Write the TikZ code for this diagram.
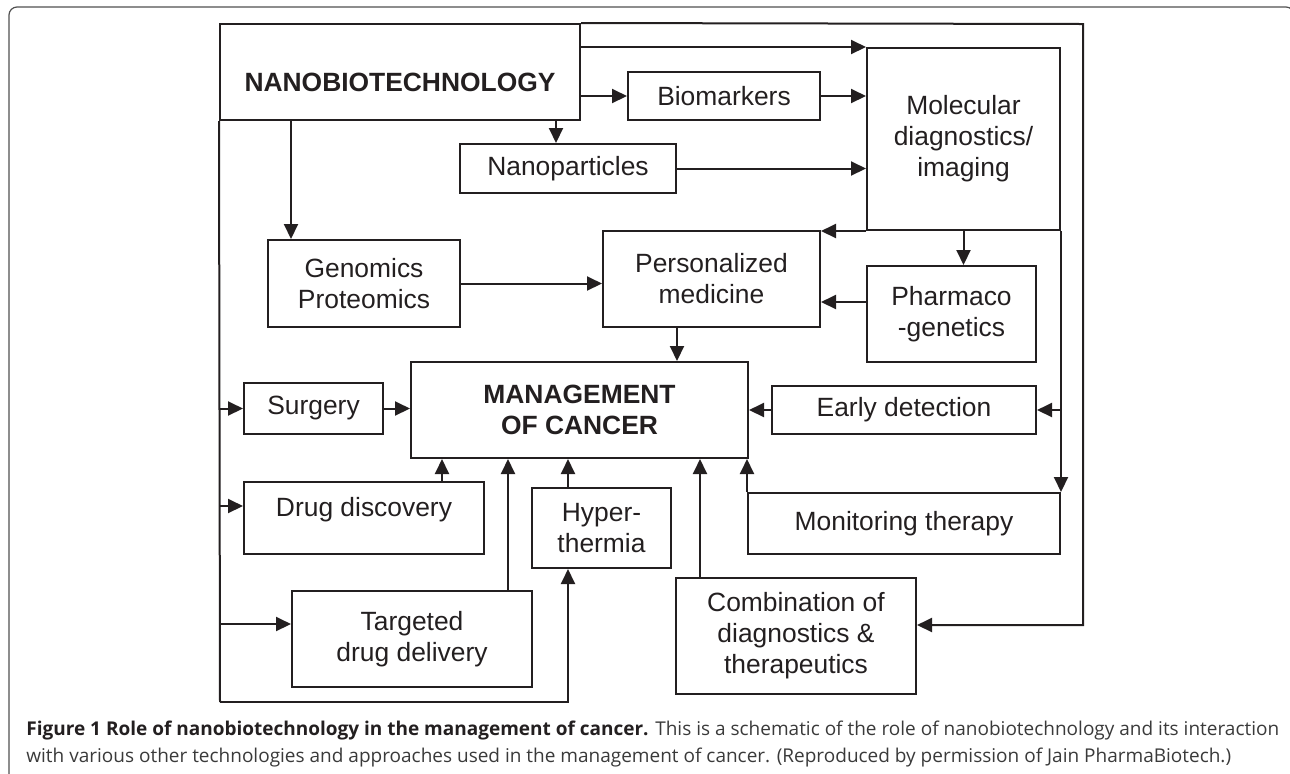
\documentclass[tikz,border=0pt]{standalone}
\usepackage{fontspec}
\setmainfont{Liberation Sans}
\newfontfamily\capfont{Open Sans}
\usetikzlibrary{positioning,calc,arrows.meta}
\definecolor{inkc}{HTML}{231F20}
\definecolor{capc}{HTML}{3A3A3A}
\definecolor{framec}{HTML}{505050}
\newcommand{\blkfont}{\fontsize{13.2}{15.5}\selectfont}

\begin{document}
\begin{tikzpicture}[x=0.5pt,y=-0.5pt]
\tikzset{
  blk/.style={
    draw=inkc,
    line width=1pt,
    inner sep=0pt,
    align=center,
    text=inkc,
    font=\blkfont
  },
  arr/.style={
    draw=inkc,
    line width=1pt,
    -{Triangle[length=7.5pt,width=7pt]}
  },
  bus/.style={
    draw=inkc,
    line width=1pt
  }
}
\useasboundingbox (0,0) rectangle (1290,773);

% ======= frame of the figure =======
\draw[framec, line width=0.6pt, rounded corners=4pt] (9,790) -- (9,7) -- (1294,7) -- (1294,60);

% ======= top row =======
\node[blk, minimum width=180pt, minimum height=48pt, font=\blkfont\bfseries] (nano) at (400,72) {\raisebox{-5pt}[\height][\depth]{NANOBIOTECHNOLOGY}};
\node[blk, minimum width=96pt, minimum height=24pt] (bio) at (724,96) {Biomarkers};
\node[blk, minimum width=96.5pt, minimum height=91pt] (mol) at (963.5,139) {Molecular\\diagnostics/\\imaging};
\node[blk, minimum width=108pt, minimum height=24.5pt] (nanop) at (568,168.5) {Nanoparticles};

% ======= middle row =======
\node[blk, minimum width=96pt, minimum height=43.5pt] (genom) at (364,283.5) {Genomics\\Proteomics};
\node[blk, minimum width=108.5pt, minimum height=48pt] (pers) at (711.5,279) {Personalized\\medicine};
\node[blk, minimum width=84.5pt, minimum height=48pt] (pharm) at (951.5,314) {Pharmaco\\-genetics};

% ======= management and what feeds it =======
\node[blk, minimum width=168.5pt, minimum height=48pt, font=\blkfont\bfseries] (mgmt) at (579.5,410) {MANAGEMENT\\OF CANCER};
\node[blk, minimum width=132pt, minimum height=24pt] (early) at (904,410) {Early detection};
\node[blk, minimum width=69.5pt, minimum height=25.5pt] (surg) at (313.5,408.5) {Surgery};
\node[blk, minimum width=120pt, minimum height=36pt] (drug) at (364,518) {\raisebox{4pt}[\height][\depth]{Drug discovery}};
\node[blk, minimum width=69.5pt, minimum height=40pt] (hyper) at (601.5,528) {Hyper-\\thermia};
\node[blk, minimum width=156pt, minimum height=30.5pt] (monit) at (904,523.5) {Monitoring therapy};
\node[blk, minimum width=120pt, minimum height=48pt] (targ) at (412,639) {Targeted\\drug delivery};
\node[blk, minimum width=120pt, minimum height=58pt] (comb) at (796,636) {Combination of\\diagnostics \&\\therapeutics};

\coordinate (busbot) at (220,702);
\coordinate (frametr) at (1083,24);

% ======= connectors from the top =======
\draw[arr] (nano.east |- mol.north west) -- (mol.north west);
\draw[arr] (nano.east |- bio.west) -- (bio.west);
\draw[arr] (bio.east) -- (bio.east -| mol.west);
\draw[arr] ([xshift=-6pt]nanop.north |- nano.south) -- ([xshift=-6pt]nanop.north);
\draw[arr] (nanop.east) -- (nanop.east -| mol.west);
\draw[arr] ([xshift=12pt]genom.north west |- nano.south) -- ([xshift=12pt]genom.north west);
\draw[arr] (genom.east) -- (genom.east -| pers.west);
\draw[arr] (mol.south west) -- (mol.south west -| pers.east);
\draw[arr] (mol.south) -- (mol.south |- pharm.north);
\draw[arr] ([yshift=6pt]pharm.west) -- ([yshift=6pt]pharm.west -| pers.east);
\draw[arr] ([xshift=-17.25pt]pers.south) -- ([xshift=-17.25pt]pers.south |- mgmt.north);

% ======= right hand side =======
\draw[arr] (mol.south east) -- (monit.north east);
\draw[arr] (early.east -| mol.east) -- (early.east);
\draw[arr] (early.west) -- (early.west -| mgmt.east);
\draw[arr] (monit.north west) -- (monit.north west |- mgmt.south);
\draw[arr] (nano.north east) -- (frametr) |- ([yshift=5.5pt]comb.east);
\draw[arr] ([xshift=-48pt]comb.north) -- ([xshift=-48pt]comb.north |- mgmt.south);

% ======= left hand side =======
\draw[bus] (nano.south west) -- (busbot);
\draw[arr] (surg.west -| nano.west) -- (surg.west);
\draw[arr] (surg.east) -- (surg.east -| mgmt.west);
\draw[arr] ([yshift=6pt]drug.west -| nano.west) -- ([yshift=6pt]drug.west);
\draw[arr] ([yshift=7.5pt]targ.west -| nano.west) -- ([yshift=7.5pt]targ.west);
\draw[arr] ([xshift=39pt]drug.north) -- ([xshift=39pt]drug.north |- mgmt.south);
\draw[arr] ([xshift=48pt]targ.north) -- ([xshift=48pt]targ.north |- mgmt.south);
\draw[arr] ([xshift=-16.75pt]hyper.north) -- ([xshift=-16.75pt]hyper.north |- mgmt.south);
\draw[arr] (busbot) -| ([xshift=-16.75pt]hyper.south);

% ======= caption =======
\node[anchor=base west, inner sep=0pt, align=left, text=capc, font=\capfont\fontsize{9.5}{13.5}\selectfont] (cap) at (26,762)
  {\textbf{\color{inkc}Figure 1 Role of nanobiotechnology in the management of cancer.} This is a schematic of the role of nanobiotechnology and its interaction\\
   with various other technologies and approaches used in the management of cancer. (Reproduced by permission of Jain PharmaBiotech.)};
\end{tikzpicture}
\end{document}
